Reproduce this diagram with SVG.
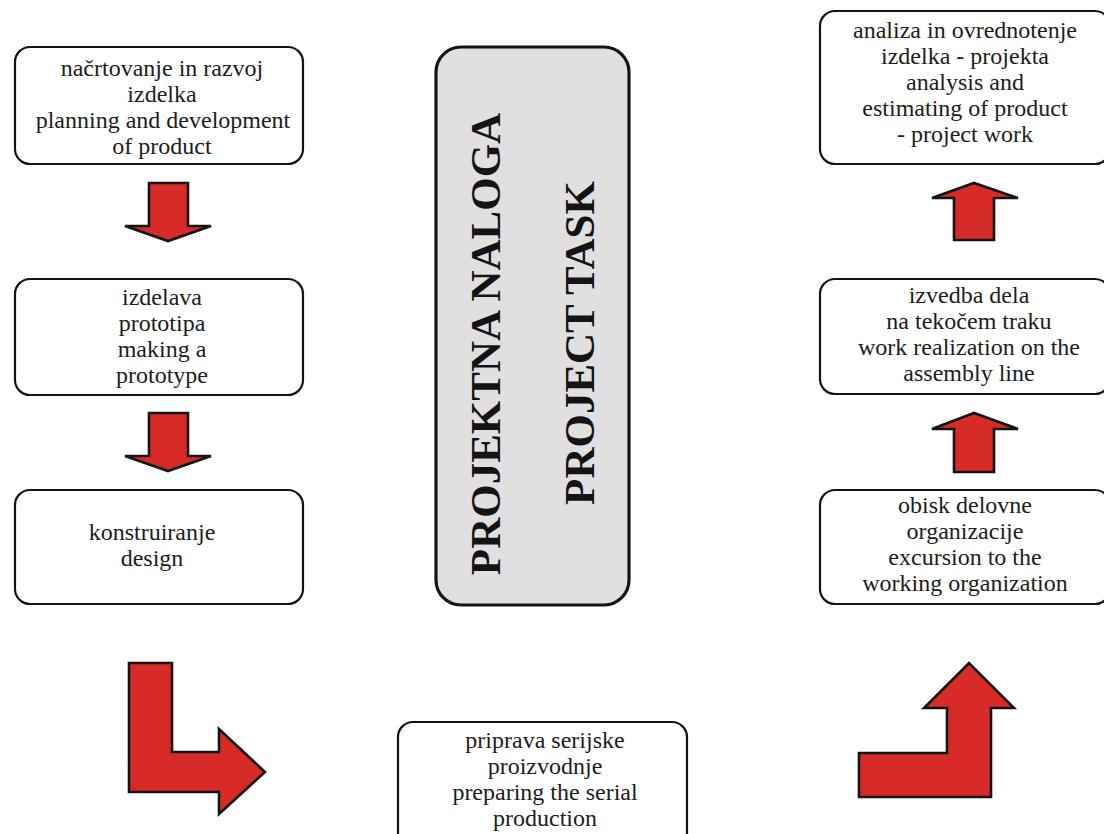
<svg xmlns="http://www.w3.org/2000/svg" width="1104" height="834" viewBox="0 0 1104 834">
<style>
.box{fill:#fff;stroke:#141414;stroke-width:2.2}
.main{fill:#e0e0e0;stroke:#141414;stroke-width:3.2}
.t{font-family:"Liberation Serif","Times New Roman",serif;font-size:24px;fill:#1c1c1c;text-anchor:middle}
.big{font-family:"Liberation Serif","Times New Roman",serif;font-size:43px;font-weight:bold;fill:#141414;text-anchor:middle}
.arr{fill:#d72b27;stroke:#141414;stroke-width:2.6;stroke-linejoin:miter}
</style>
<rect width="1104" height="834" fill="#fff"/>
<g id="planning">
<rect class="box" x="15" y="47" width="288" height="117" rx="15"/>
<text class="t" x="162" y="76">načrtovanje in razvoj</text>
<text class="t" x="162" y="102">izdelka</text>
<text class="t" x="163" y="128">planning and development</text>
<text class="t" x="162" y="154">of product</text>
</g>
<g id="prototype">
<rect class="box" x="15" y="279" width="288" height="116" rx="15"/>
<text class="t" x="162" y="305">izdelava</text>
<text class="t" x="162" y="331">prototipa</text>
<text class="t" x="162" y="357">making a</text>
<text class="t" x="162" y="383">prototype</text>
</g>
<g id="design">
<rect class="box" x="15" y="490" width="288" height="114" rx="15"/>
<text class="t" x="152" y="540">konstruiranje</text>
<text class="t" x="152" y="566">design</text>
</g>
<g id="project-task">
<rect class="main" x="436" y="47" width="193" height="558" rx="25"/>
<text class="big" transform="translate(500,344) rotate(-90)">PROJEKTNA NALOGA</text>
<text class="big" transform="translate(594,343) rotate(-90)">PROJECT TASK</text>
</g>
<g id="serial">
<rect class="box" x="398" y="722" width="289" height="130" rx="15"/>
<text class="t" x="545" y="748">priprava serijske</text>
<text class="t" x="545" y="774">proizvodnje</text>
<text class="t" x="545" y="800">preparing the serial</text>
<text class="t" x="545" y="826">production</text>
</g>
<g id="excursion">
<rect class="box" x="820" y="490" width="290" height="114" rx="15"/>
<text class="t" x="965" y="513">obisk delovne</text>
<text class="t" x="965" y="539">organizacije</text>
<text class="t" x="965" y="565">excursion to the</text>
<text class="t" x="965" y="591">working organization</text>
</g>
<g id="realization">
<rect class="box" x="820" y="279" width="290" height="115" rx="15"/>
<text class="t" x="969" y="303">izvedba dela</text>
<text class="t" x="969" y="329">na tekočem traku</text>
<text class="t" x="969" y="355">work realization on the</text>
<text class="t" x="969" y="381">assembly line</text>
</g>
<g id="analysis">
<rect class="box" x="820" y="11" width="290" height="153" rx="15"/>
<text class="t" x="965" y="38">analiza in ovrednotenje</text>
<text class="t" x="965" y="64">izdelka - projekta</text>
<text class="t" x="965" y="90">analysis and</text>
<text class="t" x="965" y="116">estimating of product</text>
<text class="t" x="965" y="142">- project work</text>
</g>
<g id="connectors">
<path class="arr" d="M149,183 H188 V226 H211 L168,241 L125,226 H149 Z"/>
<path class="arr" d="M149,413 H188 V456 H211 L168,471 L125,456 H149 Z"/>
<path class="arr" d="M129,663 H172 V752 H219 V729 L265,772 L219,814 V792 H129 Z"/>
<path class="arr" d="M859,797 V753 H947 V708 H924 L969,663 L1014,708 H991 V797 Z"/>
<path class="arr" d="M954,472 V429 H932 L974,413 L1018,429 H994 V472 Z"/>
<path class="arr" d="M954,240 V198 H932 L974,183 L1018,198 H994 V240 Z"/>
</g>
</svg>
